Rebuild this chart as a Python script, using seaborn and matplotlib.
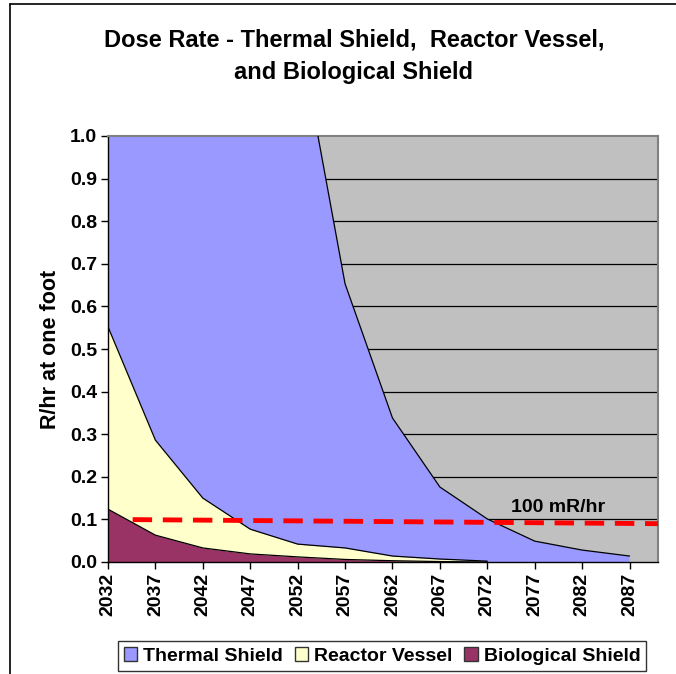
import matplotlib
matplotlib.use('Agg')
import matplotlib.pyplot as plt
import seaborn as sns
import pandas as pd
from matplotlib.patches import Patch
from matplotlib.lines import Line2D

years = [2032, 2037, 2042, 2047, 2052, 2057, 2062, 2067, 2072, 2077, 2082, 2087]
thermal_shield = [17.0, 8.9, 4.65, 2.42, 1.26, 0.653, 0.338, 0.176, 0.101, 0.049, 0.028, 0.014]
reactor_vessel = [0.552, 0.286, 0.150, 0.077, 0.042, 0.033, 0.014, 0.007, 0.002]
biological_shield = [0.124, 0.063, 0.033, 0.019, 0.012, 0.006, 0.003, 0.001, 0.0]
limit_x = [2034.6, 2090]
limit_y = [0.0995, 0.090]
series_names = ['Thermal Shield', 'Reactor Vessel', 'Biological Shield']
colors = ['#9999FF', '#FFFFCC', '#993366']

sns.set_style('white')
plt.rcParams['font.family'] = ['Liberation Sans', 'DejaVu Sans']
plt.rcParams['font.weight'] = 'bold'
plt.rcParams['text.color'] = 'black'
plt.rcParams['axes.labelcolor'] = 'black'
plt.rcParams['xtick.color'] = 'black'
plt.rcParams['ytick.color'] = 'black'

fig = plt.figure(figsize=(6.76, 6.74), dpi=100)
ax = fig.add_axes([108 / 676, 112 / 674, 550 / 676, 426 / 674])
ax.set_facecolor('#C0C0C0')

for v in [0.1 * k for k in range(1, 10)]:
    ax.axhline(v, color='black', lw=0.9, zorder=1)

all_vals = [thermal_shield, reactor_vessel, biological_shield]
for name, vals, col in zip(series_names, all_vals, colors):
    df = pd.DataFrame({'year': years[:len(vals)], 'dose': vals})
    ax.fill_between(df['year'], df['dose'], color=col, zorder=2, lw=0)
    sns.lineplot(data=df, x='year', y='dose', color='black', lw=0.9, ax=ax, zorder=3)

sns.lineplot(x=limit_x, y=limit_y, color='#FF0000', lw=3.5, ax=ax, zorder=4,
             dashes=False, linestyle=(0, (4, 2.2)))
ax.text(2079.5, 0.128, '100 mR/hr', ha='center', va='center', fontsize=14, fontweight='bold')

ax.set_xlim(2032, 2090)
ax.set_ylim(0, 1.0)
ax.set_xticks(years)
ax.set_xticklabels([str(y) for y in years], rotation=90, fontsize=14, fontweight='bold')
ax.set_yticks([0.1 * k for k in range(11)])
ax.set_yticklabels([f'{0.1 * k:.1f}' for k in range(11)], fontsize=14, fontweight='bold')
ax.tick_params(axis='both', direction='out', length=5, width=1, color='black', pad=3,
               bottom=True, left=True)
ax.set_xlabel('')
ax.set_ylabel('R/hr at one foot', fontsize=15.5, fontweight='bold', labelpad=6)

for side in ['left', 'bottom']:
    ax.spines[side].set_color('black')
    ax.spines[side].set_linewidth(1)
for side in ['top', 'right']:
    ax.spines[side].set_color('#808080')
    ax.spines[side].set_linewidth(1.5)

fig.text(354 / 676, 1 - 40 / 674, 'Dose Rate - Thermal Shield,  Reactor Vessel,',
         ha='center', va='center', fontsize=17, fontweight='bold')
fig.text(354 / 676, 1 - 72 / 674, 'and Biological Shield',
         ha='center', va='center', fontsize=17, fontweight='bold')

handles = [Patch(facecolor=c, edgecolor='#333333', lw=1) for c in colors]
leg = fig.legend(handles, series_names, loc='center', bbox_to_anchor=(382 / 676, 1 - 656 / 674),
                 ncol=3, frameon=True, fancybox=False, handlelength=0.7,
                 handleheight=0.7, handletextpad=0.3, columnspacing=0.6, borderpad=0.3,
                 prop={'weight': 'bold', 'size': 14})
leg.get_frame().set_edgecolor('black')
leg.get_frame().set_linewidth(1)

fig.add_artist(Line2D([10 / 676, 10 / 676], [0, 1 - 4 / 674], color='black', lw=1.2))
fig.add_artist(Line2D([10 / 676, 1], [1 - 4 / 674, 1 - 4 / 674], color='black', lw=1.2))

fig.savefig('out.png', dpi=100)
